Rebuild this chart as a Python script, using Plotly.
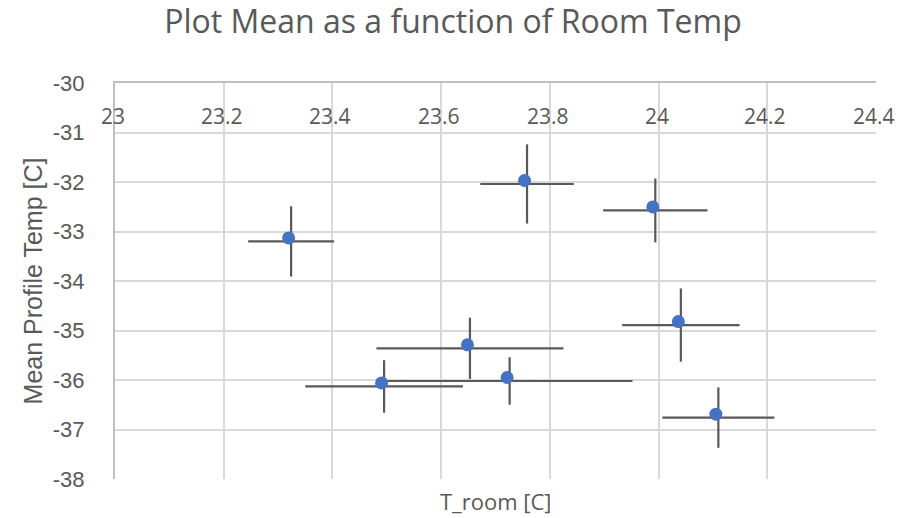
import plotly.graph_objects as go

# ---- data ----
t_room = [23.324, 23.758, 23.994, 23.495, 23.653, 23.726, 24.041, 24.110]
t_room_err = [0.079, 0.086, 0.096, 0.145, 0.172, 0.226, 0.108, 0.103]
mean_temp = [-33.20, -32.04, -32.575, -36.13, -35.36, -36.02, -34.89, -36.76]
mean_temp_err = [0.71, 0.80, 0.645, 0.53, 0.62, 0.48, 0.74, 0.61]

x_ticks = [23, 23.2, 23.4, 23.6, 23.8, 24, 24.2, 24.4]
x_tick_text = ["23", "23.2", "23.4", "23.6", "23.8", "24", "24.2", "24.4"]
y_ticks = [-30, -31, -32, -33, -34, -35, -36, -37, -38]
y_tick_text = ["-30", "-31", "-32", "-33", "-34", "-35", "-36", "-37", "-38"]

title = "Plot Mean as a function of Room Temp"
x_title = "T_room [C]"
y_title = "Mean Profile Temp [C]"

TXT = "#595959"
GRID = "#D9D9D9"
AXIS = "#BFBFBF"

x_range = [23, 24.4]
y_range = [-38, -30]

# marker layer drawn a few pixels up/left of the error-bar crossing, as in the reference
dx = 2.5 / 543.6
dy = 3.5 / 49.6

fig = go.Figure()
fig.add_trace(go.Scatter(
    x=t_room, y=mean_temp, mode="markers",
    marker=dict(size=1, color="rgba(0,0,0,0)"),
    error_x=dict(type="data", array=t_room_err, color="#595959", thickness=2.2, width=0),
    error_y=dict(type="data", array=mean_temp_err, color="#595959", thickness=2.2, width=0),
    showlegend=False, hoverinfo="skip",
))
fig.add_trace(go.Scatter(
    x=t_room, y=mean_temp, mode="markers",
    marker=dict(size=13, color="#4472C4"),
    xaxis="x2", yaxis="y2", showlegend=False,
))

annotations = [dict(
    text=x_title, xref="paper", yref="paper", x=0.5, y=0,
    xanchor="center", yanchor="top", yshift=-5, showarrow=False,
    font=dict(family="Open Sans", size=22, color=TXT),
)]
# x tick labels sit inside the plot, just under the top axis line
for xv, xt in zip(x_ticks, x_tick_text):
    annotations.append(dict(
        text=xt, xref="x", yref="paper", x=xv, y=0.917,
        xanchor="center", yanchor="middle", xshift=-2, showarrow=False,
        font=dict(family="Open Sans", size=21, color=TXT),
    ))

fig.update_layout(
    width=906, height=518,
    margin=dict(l=115, r=30, t=83, b=39),
    paper_bgcolor="white", plot_bgcolor="white",
    title=dict(text=title, x=0.5, xanchor="center", y=0.957, yanchor="middle",
               font=dict(family="Open Sans", size=32, color=TXT)),
    xaxis=dict(
        range=x_range, side="top", tickvals=x_ticks, showticklabels=False, ticks="",
        showgrid=True, gridcolor=GRID, gridwidth=2,
        showline=True, linecolor=AXIS, linewidth=2, zeroline=False,
    ),
    yaxis=dict(
        range=y_range, tickvals=y_ticks, ticktext=y_tick_text, ticks="",
        ticklabelstandoff=24,
        showgrid=True, gridcolor=GRID, gridwidth=2,
        showline=True, linecolor=AXIS, linewidth=2, zeroline=False,
        tickfont=dict(family="Liberation Sans", size=22, color=TXT),
        title=dict(text=y_title, standoff=3,
                   font=dict(family="Liberation Sans", size=25, color=TXT)),
    ),
    xaxis2=dict(range=[x_range[0] + dx, x_range[1] + dx], overlaying="x",
                visible=False, showgrid=False, zeroline=False),
    yaxis2=dict(range=[y_range[0] - dy, y_range[1] - dy], overlaying="y",
                visible=False, showgrid=False, zeroline=False),
    annotations=annotations,
)

fig.write_html("out.html")
